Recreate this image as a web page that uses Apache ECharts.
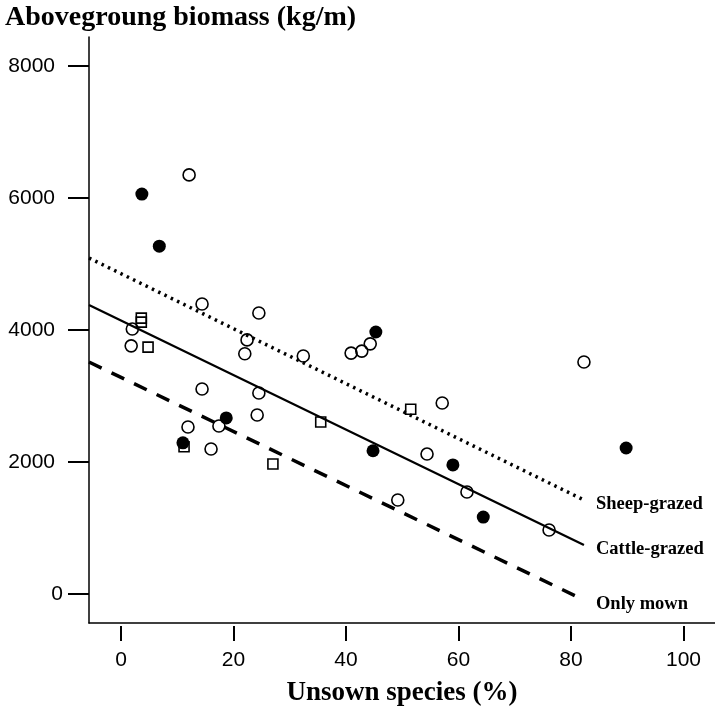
<!DOCTYPE html>
<html>
<head>
<meta charset="utf-8">
<style>html,body{margin:0;padding:0;background:#fff}#c{width:715px;height:710px}</style>
<script src="https://cdn.jsdelivr.net/npm/echarts@6/dist/echarts.min.js"></script>
</head>
<body>
<div id="c"></div>
<script>
const xTicks = [0, 20, 40, 60, 80, 100];
const yTicks = [0, 2000, 4000, 6000, 8000];

const filledX = [3.7, 6.8, 45.3, 18.7, 11.0, 44.8, 59.0, 64.4, 89.8];
const filledY = [6060, 5270, 3970, 2667, 2290, 2170, 1955, 1165, 2212];

const openX = [12.1, 14.4, 24.5, 2.0, 1.8, 22.4, 22.0, 14.4, 24.5, 11.9, 24.2, 17.4, 16.0, 32.4, 40.9, 42.8, 44.3, 57.1, 54.4, 49.2, 61.5, 76.1, 82.3];
const openY = [6350, 4394, 4258, 4015, 3760, 3850, 3640, 3106, 3045, 2530, 2712, 2545, 2197, 3606, 3650, 3680, 3790, 2894, 2120, 1424, 1545, 970, 3515];

const squareX = [3.6, 3.6, 4.8, 11.2, 27.0, 35.5, 51.5];
const squareY = [4180, 4120, 3740, 2230, 1970, 2606, 2800];

const lineNames = ['Sheep-grazed', 'Cattle-grazed', 'Only mown'];
const lineX = [-5.7, 82.3];
const sheepY = [5091, 1424];
const cattleY = [4379, 742];
const mownY = [3515, -91];

const zip = (xs, ys) => xs.map((x, i) => [x, ys[i]]);
const serif = 'Liberation Serif';
const sans = 'Liberation Sans';

const endLabel = {
  show: true, formatter: '{a}', distance: 12, offset: [0, 4],
  fontFamily: serif, fontWeight: 'bold', fontSize: 18.5, color: '#000'
};

const chart = echarts.init(document.getElementById('c'), null, {renderer: 'canvas'});
chart.setOption({
  animation: false,
  backgroundColor: '#fff',
  title: {
    text: 'Abovegroung biomass (kg/m)', left: 0, top: -1,
    textStyle: {fontFamily: serif, fontWeight: 'bold', fontSize: 28, color: '#000'}
  },
  grid: {left: 89, top: 37, right: 0, bottom: 87, containLabel: false, outerBoundsMode: 'none'},
  xAxis: [{
    type: 'value', min: -5.7, max: 105.6,
    axisLine: {show: true, onZero: false, lineStyle: {color: '#000', width: 1.5}},
    axisTick: {show: false}, axisLabel: {show: false}, splitLine: {show: false},
    name: 'Unsown species (%)', nameLocation: 'middle', nameGap: 57,
    nameTextStyle: {fontFamily: serif, fontWeight: 'bold', fontSize: 27, color: '#000'}
  }, {
    type: 'value', min: -5.7, max: 105.6, position: 'bottom', offset: 3,
    axisLine: {show: false, onZero: false},
    axisTick: {show: true, customValues: xTicks, length: 15, lineStyle: {color: '#000', width: 2}},
    axisLabel: {show: true, customValues: xTicks, margin: 24, fontFamily: sans, fontSize: 21, color: '#000'},
    splitLine: {show: false}
  }],
  yAxis: [{
    type: 'value', min: -440, max: 8440,
    axisLine: {show: true, onZero: false, lineStyle: {color: '#000', width: 1.5}},
    axisTick: {show: true, customValues: yTicks, length: 21, lineStyle: {color: '#000', width: 2}},
    axisLabel: {
      show: true, customValues: yTicks, margin: 26, fontFamily: sans, fontSize: 21, color: '#000',
      formatter: v => v === 0 ? '0' : '{n|' + v + '}',
      rich: {n: {fontFamily: sans, fontSize: 21, color: '#000', padding: [0, 8, 0, 0]}}
    },
    splitLine: {show: false}
  }],
  series: [
    {
      type: 'line', name: lineNames[0], data: zip(lineX, sheepY), showSymbol: false,
      lineStyle: {color: '#000', width: 3.5, type: [2.5, 4.5], cap: 'butt', opacity: 1}, endLabel: endLabel, z: 3
    },
    {
      type: 'line', name: lineNames[1], data: zip(lineX, cattleY), showSymbol: false,
      lineStyle: {color: '#000', width: 2.2, opacity: 1}, endLabel: endLabel, z: 3
    },
    {
      type: 'line', name: lineNames[2], data: zip(lineX, mownY), showSymbol: false,
      lineStyle: {color: '#000', width: 3.5, type: [14, 11], opacity: 1}, endLabel: endLabel, z: 3
    },
    {
      type: 'scatter', name: 'open', data: zip(openX, openY), symbol: 'circle', symbolSize: 12,
      itemStyle: {color: 'rgba(255,255,255,0)', borderColor: '#000', borderWidth: 1.6, opacity: 1}, z: 4
    },
    {
      type: 'scatter', name: 'square', data: zip(squareX, squareY), symbol: 'rect', symbolSize: 10,
      itemStyle: {color: 'rgba(255,255,255,0)', borderColor: '#000', borderWidth: 1.6, opacity: 1}, z: 4
    },
    {
      type: 'scatter', name: 'filled', data: zip(filledX, filledY), symbol: 'circle', symbolSize: 13,
      itemStyle: {color: '#000', opacity: 1}, z: 5
    }
  ]
});
</script>
</body>
</html>
